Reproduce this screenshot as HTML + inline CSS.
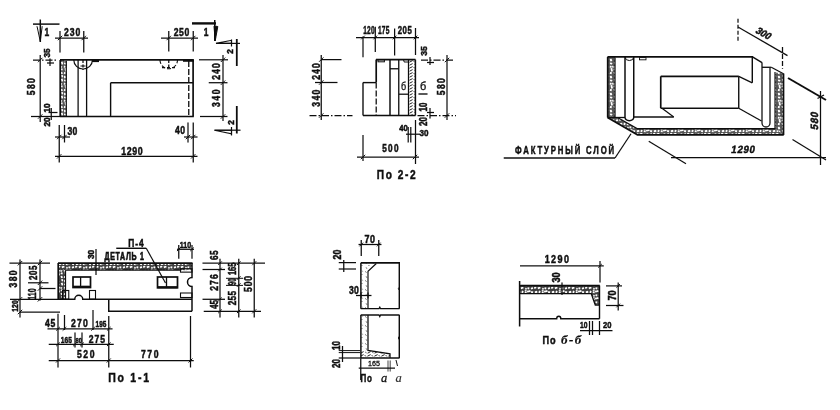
<!DOCTYPE html>
<html><head><meta charset="utf-8"><title>drawing</title>
<style>
html,body{margin:0;padding:0;background:#fff;}
body{width:840px;height:410px;overflow:hidden;font-family:"Liberation Sans",sans-serif;}
svg{display:block;font-family:"Liberation Sans",sans-serif;}
</style></head><body>
<svg width="840" height="410" viewBox="0 0 840 410">
<defs>
<pattern id="h" width="17" height="7" patternUnits="userSpaceOnUse">
<rect width="17" height="7" fill="#3d3d3d"/>
<path d="M0.5 1.2 L2.3 1.5 M4.0 1.8 L5.9 0.9 M7.2 1.2 L9.2 0.3 M10.8 1.4 L13.4 0.4 M15.2 1.7 L16.7 1.9 M0.1 4.7 L2.8 4.1 M4.1 4.8 L6.1 5.4 M7.8 5.3 L10.3 4.9 M11.6 5.5 L13.2 5.0 M14.8 5.1 L16.7 5.3 M12.9 3.8 L12.5 4.6 M8.9 4.0 L9.2 4.7 M15.7 3.0 L15.6 3.9 M3.3 3.5 L2.5 4.4" stroke="#fff" stroke-width="1.8" fill="none"/>
</pattern>
<pattern id="hl" width="17" height="7" patternUnits="userSpaceOnUse">
<rect width="17" height="7" fill="#555"/>
<path d="M0.5 1.2 L2.3 1.5 M4.0 1.8 L5.9 0.9 M7.2 1.2 L9.2 0.3 M10.8 1.4 L13.4 0.4 M15.2 1.7 L16.7 1.9 M0.1 4.7 L2.8 4.1 M4.1 4.8 L6.1 5.4 M7.8 5.3 L10.3 4.9 M11.6 5.5 L13.2 5.0 M14.8 5.1 L16.7 5.3 M12.9 3.8 L12.5 4.6 M8.9 4.0 L9.2 4.7 M15.7 3.0 L15.6 3.9 M3.3 3.5 L2.5 4.4" stroke="#fff" stroke-width="1.8" fill="none"/>
</pattern>
<pattern id="hr" width="17" height="7" patternUnits="userSpaceOnUse" patternTransform="rotate(90)">
<rect width="17" height="7" fill="#3d3d3d"/>
<path d="M0.5 1.2 L2.3 1.5 M4.0 1.8 L5.9 0.9 M7.2 1.2 L9.2 0.3 M10.8 1.4 L13.4 0.4 M15.2 1.7 L16.7 1.9 M0.1 4.7 L2.8 4.1 M4.1 4.8 L6.1 5.4 M7.8 5.3 L10.3 4.9 M11.6 5.5 L13.2 5.0 M14.8 5.1 L16.7 5.3 M12.9 3.8 L12.5 4.6 M8.9 4.0 L9.2 4.7 M15.7 3.0 L15.6 3.9 M3.3 3.5 L2.5 4.4" stroke="#fff" stroke-width="1.8" fill="none"/>
</pattern>
<pattern id="hv" width="17" height="7" patternUnits="userSpaceOnUse" patternTransform="rotate(90)">
<rect width="17" height="7" fill="#555"/>
<path d="M0.5 1.2 L2.3 1.5 M4.0 1.8 L5.9 0.9 M7.2 1.2 L9.2 0.3 M10.8 1.4 L13.4 0.4 M15.2 1.7 L16.7 1.9 M0.1 4.7 L2.8 4.1 M4.1 4.8 L6.1 5.4 M7.8 5.3 L10.3 4.9 M11.6 5.5 L13.2 5.0 M14.8 5.1 L16.7 5.3 M12.9 3.8 L12.5 4.6 M8.9 4.0 L9.2 4.7 M15.7 3.0 L15.6 3.9 M3.3 3.5 L2.5 4.4" stroke="#fff" stroke-width="1.8" fill="none"/>
</pattern>
<pattern id="h3" width="7" height="6" patternUnits="userSpaceOnUse">
<rect width="7" height="6" fill="#fff"/>
<path d="M3.4 2.2 L6.6 0.6 M3.6 5.2 L6.6 3.6 M0.8 1.2 L1.8 2.4 M1.4 4.2 L2.4 4.8" stroke="#222" stroke-width="1.0" fill="none"/>
</pattern>
<pattern id="h2" width="7" height="9" patternUnits="userSpaceOnUse">
<rect width="7" height="9" fill="#fff"/>
<path d="M1.5 1.5 L2.3 2.6 M4.5 4 L5.2 4.8 M2.2 6.5 L2.8 7.6 M5.3 0.8 L5.6 1.4" stroke="#222" stroke-width="0.9" fill="none"/>
</pattern>
<filter id="bl" x="-2%" y="-2%" width="104%" height="104%"><feGaussianBlur stdDeviation="0.3"/></filter>
</defs>
<rect width="840" height="410" fill="#fff"/>
<g stroke="#111" fill="none" filter="url(#bl)">
<polygon points="60,60 66.3,60 66.3,116.5 60,116.5" fill="url(#hv)" stroke="none"/>
<line x1="60" y1="59.8" x2="193.8" y2="59.8" stroke-width="1.7" stroke-linecap="butt"/>
<line x1="33" y1="60" x2="58" y2="60" stroke-width="1.25" stroke-dasharray="7 2 1.5 2" stroke-linecap="butt"/>
<line x1="60.2" y1="60" x2="60.2" y2="116.5" stroke-width="1.7" stroke-linecap="butt"/>
<line x1="66.3" y1="61" x2="66.3" y2="116.5" stroke-width="1.25" stroke-linecap="butt"/>
<line x1="31" y1="116.5" x2="60" y2="116.5" stroke-width="1.25" stroke-linecap="butt"/>
<line x1="60" y1="116.5" x2="193.8" y2="116.5" stroke-width="1.5" stroke-linecap="butt"/>
<line x1="78.1" y1="60" x2="78.1" y2="116.5" stroke-width="1.3" stroke-linecap="butt"/>
<line x1="86.6" y1="60" x2="86.6" y2="116.5" stroke-width="1.3" stroke-linecap="butt"/>
<path d="M73.8 60 A9.3 9 0 0 0 92.4 60" stroke-width="1.2" fill="none"/>
<line x1="83" y1="60" x2="83" y2="70" stroke-width="1.25" stroke-dasharray="3 1.5" stroke-linecap="butt"/>
<line x1="80.5" y1="66" x2="85.5" y2="66" stroke-width="1.0" stroke-linecap="butt"/>
<line x1="92" y1="61" x2="99" y2="61" stroke-width="2.2" stroke-linecap="butt"/>
<path d="M160 60 A8.75 8.75 0 0 0 177.5 60" stroke-width="1.1" fill="none" stroke-dasharray="4 2"/>
<line x1="168.75" y1="60" x2="168.75" y2="69" stroke-width="1.25" stroke-dasharray="3 1.5" stroke-linecap="butt"/>
<line x1="162" y1="67.5" x2="175" y2="67.5" stroke-width="1.25" stroke-dasharray="3 2" stroke-linecap="butt"/>
<line x1="183" y1="60.6" x2="193.8" y2="60.6" stroke-width="2.4" stroke-linecap="butt"/>
<line x1="193.1" y1="60" x2="193.1" y2="116.5" stroke-width="1.7" stroke-linecap="butt"/>
<line x1="188.75" y1="61" x2="188.75" y2="116.5" stroke-width="1.3" stroke-dasharray="6 2" stroke-linecap="butt"/>
<line x1="110.6" y1="82.7" x2="193" y2="82.7" stroke-width="1.5" stroke-linecap="butt"/>
<line x1="110.6" y1="82.7" x2="110.6" y2="116.5" stroke-width="1.4" stroke-linecap="butt"/>
<line x1="33" y1="24.1" x2="59.5" y2="24.1" stroke-width="1.5" stroke-linecap="butt"/>
<line x1="40.3" y1="19.5" x2="40.3" y2="42" stroke-width="1.5" stroke-linecap="butt"/>
<path d="M37 26.2 L40.3 41.5 L42.2 26.2" stroke-width="1.0" fill="none"/>
<text transform="translate(46.8,35.8) scale(0.8,1)" font-size="10.5" text-anchor="middle" font-weight="bold" stroke="#111" stroke-width="0.5" fill="#111">1</text>
<line x1="60" y1="31" x2="60" y2="52.5" stroke-width="1.25" stroke-linecap="butt"/>
<line x1="83.75" y1="31" x2="83.75" y2="52.5" stroke-width="1.25" stroke-linecap="butt"/>
<line x1="55" y1="38" x2="88" y2="38" stroke-width="1.25" stroke-linecap="butt"/>
<line x1="57.8" y1="40.2" x2="62.2" y2="35.8" stroke-width="1.0" stroke-linecap="butt"/>
<line x1="81.55" y1="40.2" x2="85.95" y2="35.8" stroke-width="1.0" stroke-linecap="butt"/>
<text transform="translate(72.7,35.8) scale(0.82,1)" font-size="10.5" text-anchor="middle" font-weight="bold" letter-spacing="1.2" stroke="#111" stroke-width="0.5" fill="#111">230</text>
<line x1="168.75" y1="31" x2="168.75" y2="51.5" stroke-width="1.25" stroke-linecap="butt"/>
<line x1="193.25" y1="31" x2="193.25" y2="51.5" stroke-width="1.25" stroke-linecap="butt"/>
<line x1="161" y1="38" x2="198" y2="38" stroke-width="1.25" stroke-linecap="butt"/>
<line x1="166.55" y1="40.2" x2="170.95" y2="35.8" stroke-width="1.0" stroke-linecap="butt"/>
<line x1="191.05" y1="40.2" x2="195.45" y2="35.8" stroke-width="1.0" stroke-linecap="butt"/>
<text transform="translate(181.8,35.8) scale(0.82,1)" font-size="10.5" text-anchor="middle" font-weight="bold" letter-spacing="0.7" stroke="#111" stroke-width="0.5" fill="#111">250</text>
<line x1="192" y1="23.4" x2="216" y2="23.4" stroke-width="2.4" stroke-linecap="butt"/>
<line x1="214.75" y1="20" x2="214.75" y2="41" stroke-width="1.5" stroke-linecap="butt"/>
<path d="M214 26 L217.8 26.5 L215.2 41 Z" stroke-width="1.0" fill="#111"/>
<text transform="translate(206,35.6) scale(0.8,1)" font-size="10.5" text-anchor="middle" font-weight="bold" stroke="#111" stroke-width="0.5" fill="#111">1</text>
<line x1="40.2" y1="55" x2="40.2" y2="122" stroke-width="1.25" stroke-linecap="butt"/>
<line x1="38.0" y1="62.2" x2="42.400000000000006" y2="57.8" stroke-width="1.0" stroke-linecap="butt"/>
<line x1="38.0" y1="118.7" x2="42.400000000000006" y2="114.3" stroke-width="1.0" stroke-linecap="butt"/>
<text transform="translate(35.2,86) rotate(-90) scale(0.82,1)" font-size="10.5" text-anchor="middle" font-weight="bold" letter-spacing="1.6" stroke="#111" stroke-width="0.5" fill="#111">580</text>
<text transform="translate(50,53) rotate(-90) scale(0.92,1)" font-size="9" text-anchor="middle" font-weight="bold" stroke="#111" stroke-width="0.5" fill="#111">35</text>
<line x1="50" y1="58.5" x2="50" y2="66" stroke-width="1.25" stroke-linecap="butt"/>
<line x1="47" y1="63" x2="54" y2="63" stroke-width="1.25" stroke-linecap="butt"/>
<text transform="translate(50,108) rotate(-90) scale(0.92,1)" font-size="9" text-anchor="middle" font-weight="bold" stroke="#111" stroke-width="0.5" fill="#111">10</text>
<text transform="translate(50,122) rotate(-90) scale(0.92,1)" font-size="9" text-anchor="middle" font-weight="bold" stroke="#111" stroke-width="0.5" fill="#111">20</text>
<line x1="51.25" y1="108" x2="51.25" y2="120" stroke-width="1.25" stroke-linecap="butt"/>
<line x1="48.5" y1="112.5" x2="57.5" y2="112.5" stroke-width="1.25" stroke-linecap="butt"/>
<line x1="223" y1="55" x2="223" y2="121" stroke-width="1.25" stroke-linecap="butt"/>
<line x1="199" y1="59.8" x2="228" y2="59.8" stroke-width="1.25" stroke-linecap="butt"/>
<line x1="208.75" y1="82.7" x2="227.5" y2="82.7" stroke-width="1.25" stroke-linecap="butt"/>
<line x1="200" y1="116.5" x2="227.5" y2="116.5" stroke-width="1.25" stroke-linecap="butt"/>
<line x1="220.8" y1="62.0" x2="225.2" y2="57.599999999999994" stroke-width="1.0" stroke-linecap="butt"/>
<line x1="220.8" y1="84.9" x2="225.2" y2="80.5" stroke-width="1.0" stroke-linecap="butt"/>
<line x1="220.8" y1="118.7" x2="225.2" y2="114.3" stroke-width="1.0" stroke-linecap="butt"/>
<text transform="translate(220.2,71) rotate(-90) scale(0.82,1)" font-size="10.5" text-anchor="middle" font-weight="bold" letter-spacing="1.3" stroke="#111" stroke-width="0.5" fill="#111">240</text>
<text transform="translate(220.2,97.5) rotate(-90) scale(0.82,1)" font-size="10.5" text-anchor="middle" font-weight="bold" letter-spacing="1.9" stroke="#111" stroke-width="0.5" fill="#111">340</text>
<line x1="236.8" y1="39" x2="236.8" y2="66" stroke-width="1.8" stroke-linecap="butt"/>
<path d="M216 43.4 L231.5 40.3 L231.5 43.4 Z" stroke-width="1.1" fill="none"/>
<line x1="216" y1="43.4" x2="240" y2="43.4" stroke-width="1.2" stroke-linecap="butt"/>
<line x1="231.5" y1="39.5" x2="231.5" y2="46.5" stroke-width="1.2" stroke-linecap="butt"/>
<text transform="translate(232.5,51.5) rotate(-90) scale(0.92,1)" font-size="9" text-anchor="middle" font-weight="bold" stroke="#111" stroke-width="0.5" fill="#111">2</text>
<line x1="236.8" y1="106" x2="236.8" y2="133.5" stroke-width="1.8" stroke-linecap="butt"/>
<path d="M214.5 130.2 L231.5 130.2 L231.5 133.8 Z" stroke-width="1.1" fill="none"/>
<line x1="214.5" y1="130.2" x2="240.5" y2="130.2" stroke-width="1.2" stroke-linecap="butt"/>
<line x1="231.5" y1="127" x2="231.5" y2="135.5" stroke-width="1.2" stroke-linecap="butt"/>
<text transform="translate(233.5,122.5) rotate(-90) scale(0.92,1)" font-size="9" text-anchor="middle" font-weight="bold" stroke="#111" stroke-width="0.5" fill="#111">2</text>
<line x1="59.25" y1="125" x2="59.25" y2="162.5" stroke-width="1.25" stroke-linecap="butt"/>
<line x1="64.5" y1="125" x2="64.5" y2="142.5" stroke-width="1.25" stroke-linecap="butt"/>
<line x1="55" y1="137" x2="70" y2="137" stroke-width="1.25" stroke-linecap="butt"/>
<line x1="57.05" y1="139.2" x2="61.45" y2="134.8" stroke-width="1.0" stroke-linecap="butt"/>
<line x1="62.3" y1="139.2" x2="66.7" y2="134.8" stroke-width="1.0" stroke-linecap="butt"/>
<text transform="translate(67.5,134.6) scale(0.82,1)" font-size="10.5" text-anchor="start" font-weight="bold" letter-spacing="0.4" stroke="#111" stroke-width="0.5" fill="#111">30</text>
<line x1="188" y1="122.5" x2="188" y2="142.5" stroke-width="1.25" stroke-linecap="butt"/>
<line x1="193.25" y1="122.5" x2="193.25" y2="162.5" stroke-width="1.25" stroke-linecap="butt"/>
<line x1="184" y1="137" x2="197.5" y2="137" stroke-width="1.25" stroke-linecap="butt"/>
<line x1="185.8" y1="139.2" x2="190.2" y2="134.8" stroke-width="1.0" stroke-linecap="butt"/>
<line x1="191.05" y1="139.2" x2="195.45" y2="134.8" stroke-width="1.0" stroke-linecap="butt"/>
<text transform="translate(185.3,134.3) scale(0.82,1)" font-size="10.5" text-anchor="end" font-weight="bold" letter-spacing="0.4" stroke="#111" stroke-width="0.5" fill="#111">40</text>
<line x1="55" y1="156.3" x2="197.5" y2="156.3" stroke-width="1.25" stroke-linecap="butt"/>
<line x1="57.05" y1="158.5" x2="61.45" y2="154.10000000000002" stroke-width="1.0" stroke-linecap="butt"/>
<line x1="191.05" y1="158.5" x2="195.45" y2="154.10000000000002" stroke-width="1.0" stroke-linecap="butt"/>
<text transform="translate(132.3,154.5) scale(0.8,1)" font-size="11" text-anchor="middle" font-weight="bold" letter-spacing="0.8" stroke="#111" stroke-width="0.5" fill="#111">1290</text>
<polygon points="408.5,59.5 415.5,59.5 415.5,115 408.5,115" fill="url(#h3)" stroke="none"/>
<line x1="376" y1="59.6" x2="415.5" y2="59.6" stroke-width="1.7" stroke-linecap="butt"/>
<line x1="376.2" y1="59.6" x2="376.2" y2="82.5" stroke-width="1.7" stroke-linecap="butt"/>
<line x1="376.2" y1="82.5" x2="376.2" y2="115.5" stroke-width="1.3" stroke-dasharray="6 2" stroke-linecap="butt"/>
<line x1="363" y1="82.6" x2="376.2" y2="82.6" stroke-width="1.4" stroke-linecap="butt"/>
<line x1="363" y1="82.6" x2="363" y2="115.5" stroke-width="1.4" stroke-linecap="butt"/>
<line x1="363" y1="115.5" x2="415.5" y2="115.5" stroke-width="1.5" stroke-linecap="butt"/>
<line x1="415.4" y1="59.6" x2="415.4" y2="115.5" stroke-width="1.5" stroke-linecap="butt"/>
<line x1="408.5" y1="60" x2="408.5" y2="115.5" stroke-width="1.25" stroke-linecap="butt"/>
<line x1="390" y1="59.6" x2="390" y2="115.5" stroke-width="1.5" stroke-linecap="butt"/>
<line x1="398.75" y1="59.6" x2="398.75" y2="115.5" stroke-width="1.3" stroke-linecap="butt"/>
<line x1="390" y1="68.75" x2="398.75" y2="68.75" stroke-width="1.3" stroke-linecap="butt"/>
<rect x="378" y="59.8" width="6.4" height="2.0" stroke-width="1.0" fill="none"/>
<path d="M403.5 59.6 L404.2 62 L408.3 62" stroke-width="1.0" fill="none"/>
<text transform="translate(403.5,90) scale(0.9,1)" font-size="10" text-anchor="middle" font-weight="normal" stroke="#111" stroke-width="0.3" fill="#111">б</text>
<line x1="399" y1="94.2" x2="408.5" y2="94.2" stroke-width="1.3" stroke-linecap="butt"/>
<text transform="translate(423.2,90) scale(0.95,1)" font-size="11.5" text-anchor="middle" font-weight="normal" stroke="#111" stroke-width="0.35" fill="#111">б</text>
<line x1="418.5" y1="94" x2="427.5" y2="94" stroke-width="1.4" stroke-linecap="butt"/>
<line x1="356" y1="37.5" x2="419" y2="37.5" stroke-width="1.25" stroke-linecap="butt"/>
<line x1="363" y1="36.5" x2="363" y2="57.2" stroke-width="1.25" stroke-linecap="butt"/>
<line x1="361.2" y1="39.3" x2="364.8" y2="35.7" stroke-width="1.0" stroke-linecap="butt"/>
<line x1="375.3" y1="26.8" x2="375.3" y2="52" stroke-width="1.25" stroke-linecap="butt"/>
<line x1="373.5" y1="39.3" x2="377.1" y2="35.7" stroke-width="1.0" stroke-linecap="butt"/>
<line x1="394.6" y1="28.5" x2="394.6" y2="55.5" stroke-width="1.25" stroke-linecap="butt"/>
<line x1="392.8" y1="39.3" x2="396.40000000000003" y2="35.7" stroke-width="1.0" stroke-linecap="butt"/>
<line x1="415.5" y1="28" x2="415.5" y2="55" stroke-width="1.25" stroke-linecap="butt"/>
<line x1="413.7" y1="39.3" x2="417.3" y2="35.7" stroke-width="1.0" stroke-linecap="butt"/>
<text transform="translate(369,34.3) scale(0.66,1)" font-size="10" text-anchor="middle" font-weight="bold" letter-spacing="0.3" stroke="#111" stroke-width="0.5" fill="#111">120</text>
<text transform="translate(383.7,34.3) scale(0.66,1)" font-size="10" text-anchor="middle" font-weight="bold" letter-spacing="0.3" stroke="#111" stroke-width="0.5" fill="#111">175</text>
<text transform="translate(405,34.3) scale(0.78,1)" font-size="10" text-anchor="middle" font-weight="bold" letter-spacing="0.6" stroke="#111" stroke-width="0.5" fill="#111">205</text>
<text transform="translate(426.8,51) rotate(-90) scale(0.92,1)" font-size="9.5" text-anchor="middle" font-weight="bold" stroke="#111" stroke-width="0.5" fill="#111">35</text>
<line x1="421" y1="60" x2="454" y2="60" stroke-width="1.25" stroke-dasharray="7 2 1.5 2" stroke-linecap="butt"/>
<line x1="430" y1="57" x2="430" y2="65" stroke-width="1.25" stroke-linecap="butt"/>
<line x1="427" y1="62.5" x2="434" y2="62.5" stroke-width="1.25" stroke-linecap="butt"/>
<line x1="447" y1="55" x2="447" y2="120" stroke-width="1.25" stroke-linecap="butt"/>
<line x1="444.8" y1="62.2" x2="449.2" y2="57.8" stroke-width="1.0" stroke-linecap="butt"/>
<line x1="444.8" y1="117.7" x2="449.2" y2="113.3" stroke-width="1.0" stroke-linecap="butt"/>
<text transform="translate(445.2,86) rotate(-90) scale(0.82,1)" font-size="10.5" text-anchor="middle" font-weight="bold" letter-spacing="1.6" stroke="#111" stroke-width="0.5" fill="#111">580</text>
<line x1="417.5" y1="115.5" x2="456" y2="115.5" stroke-width="1.25" stroke-dasharray="7 2 1.5 2" stroke-linecap="butt"/>
<text transform="translate(427.3,107) rotate(-90) scale(0.8,1)" font-size="10" text-anchor="middle" font-weight="bold" stroke="#111" stroke-width="0.5" fill="#111">10</text>
<text transform="translate(427.3,121.5) rotate(-90) scale(0.8,1)" font-size="10" text-anchor="middle" font-weight="bold" stroke="#111" stroke-width="0.5" fill="#111">20</text>
<line x1="430" y1="108" x2="430" y2="118.5" stroke-width="1.25" stroke-linecap="butt"/>
<line x1="427" y1="112.5" x2="434" y2="112.5" stroke-width="1.25" stroke-linecap="butt"/>
<line x1="321.25" y1="55" x2="321.25" y2="120" stroke-width="1.25" stroke-linecap="butt"/>
<line x1="321" y1="59.6" x2="341.5" y2="59.6" stroke-width="1.25" stroke-linecap="butt"/>
<line x1="315" y1="82.5" x2="337.5" y2="82.5" stroke-width="1.25" stroke-linecap="butt"/>
<line x1="309.5" y1="115.5" x2="352.5" y2="115.5" stroke-width="1.25" stroke-dasharray="7 2 1.5 2" stroke-linecap="butt"/>
<line x1="319.05" y1="61.800000000000004" x2="323.45" y2="57.4" stroke-width="1.0" stroke-linecap="butt"/>
<line x1="319.05" y1="84.7" x2="323.45" y2="80.3" stroke-width="1.0" stroke-linecap="butt"/>
<line x1="319.05" y1="117.7" x2="323.45" y2="113.3" stroke-width="1.0" stroke-linecap="butt"/>
<text transform="translate(320.2,71) rotate(-90) scale(0.82,1)" font-size="10.5" text-anchor="middle" font-weight="bold" letter-spacing="1.3" stroke="#111" stroke-width="0.5" fill="#111">240</text>
<text transform="translate(320.2,97.5) rotate(-90) scale(0.82,1)" font-size="10.5" text-anchor="middle" font-weight="bold" letter-spacing="1.6" stroke="#111" stroke-width="0.5" fill="#111">340</text>
<text transform="translate(403.5,131.2) scale(0.9,1)" font-size="8.5" text-anchor="middle" font-weight="bold" stroke="#111" stroke-width="0.5" fill="#111">40</text>
<text transform="translate(424,135.5) scale(0.85,1)" font-size="9.5" text-anchor="middle" font-weight="bold" stroke="#111" stroke-width="0.5" fill="#111">30</text>
<line x1="408.2" y1="127" x2="408.2" y2="142.5" stroke-width="1.25" stroke-linecap="butt"/>
<line x1="410.8" y1="127" x2="410.8" y2="142.5" stroke-width="1.25" stroke-linecap="butt"/>
<line x1="406" y1="134.2" x2="420" y2="134.2" stroke-width="1.25" stroke-linecap="butt"/>
<line x1="363" y1="135" x2="363" y2="161" stroke-width="1.25" stroke-linecap="butt"/>
<line x1="415.5" y1="120" x2="415.5" y2="164" stroke-width="1.25" stroke-linecap="butt"/>
<line x1="357" y1="157" x2="419" y2="157" stroke-width="1.25" stroke-linecap="butt"/>
<line x1="360.8" y1="159.2" x2="365.2" y2="154.8" stroke-width="1.0" stroke-linecap="butt"/>
<line x1="412.8" y1="159.2" x2="417.2" y2="154.8" stroke-width="1.0" stroke-linecap="butt"/>
<text transform="translate(391,152.3) scale(0.82,1)" font-size="10" text-anchor="middle" font-weight="bold" letter-spacing="1.6" stroke="#111" stroke-width="0.5" fill="#111">500</text>
<text transform="translate(397,179.2) scale(0.78,1)" font-size="13" text-anchor="middle" font-weight="bold" letter-spacing="2.0" stroke="#111" stroke-width="0.5" fill="#111">По 2-2</text>
<polygon points="607.5,56.75 615,56.75 615,117.5 607.5,117.5" fill="url(#hv)" stroke="none"/>
<polygon points="775,72.5 783.75,73.5 783.75,135 775,128.75" fill="url(#hv)" stroke="none"/>
<polygon points="607.5,117.5 617.5,117.5 637.5,128.75 775,128.75 783.75,135 637.5,135" fill="url(#hl)" stroke="none"/>
<line x1="607.5" y1="56.9" x2="753" y2="56.9" stroke-width="1.7" stroke-linecap="butt"/>
<line x1="607.7" y1="56.9" x2="607.7" y2="117.5" stroke-width="1.7" stroke-linecap="butt"/>
<line x1="607.5" y1="117.5" x2="625" y2="117.5" stroke-width="1.3" stroke-linecap="butt"/>
<line x1="615" y1="57.5" x2="615" y2="117.5" stroke-width="1.3" stroke-linecap="butt"/>
<path d="M607.5 117.5 L637.5 134.8 L783.75 134.8" stroke-width="1.7" fill="none"/>
<path d="M617.5 117.5 L637.5 128.75 L775 128.75" stroke-width="1.3" fill="none"/>
<path d="M625 57 L625 117.5 A4.4 3.5 0 0 0 633.75 117.5 L633.75 57" stroke-width="1.5" fill="none"/>
<path d="M625 57 A4.4 4 0 0 0 633.75 57" stroke-width="1.0" fill="none"/>
<rect x="639.5" y="57.6" width="6.5" height="2.2" stroke-width="0.9" fill="none"/>
<line x1="660.75" y1="76.3" x2="738.75" y2="76.3" stroke-width="1.7" stroke-linecap="butt"/>
<line x1="660.75" y1="76.3" x2="660.75" y2="108.3" stroke-width="1.7" stroke-linecap="butt"/>
<line x1="660.75" y1="108.3" x2="738.75" y2="108.3" stroke-width="1.5" stroke-linecap="butt"/>
<line x1="738.75" y1="76.3" x2="738.75" y2="108.3" stroke-width="1.4" stroke-linecap="butt"/>
<line x1="738.75" y1="76.3" x2="752.3" y2="82.8" stroke-width="1.3" stroke-linecap="butt"/>
<line x1="752.3" y1="56.9" x2="752.3" y2="82.8" stroke-width="1.4" stroke-linecap="butt"/>
<line x1="662" y1="108.3" x2="673.75" y2="117" stroke-width="1.3" stroke-linecap="butt"/>
<line x1="633.75" y1="117" x2="673.75" y2="117" stroke-width="1.3" stroke-linecap="butt"/>
<line x1="738.75" y1="108.3" x2="761.5" y2="121" stroke-width="1.3" stroke-linecap="butt"/>
<line x1="752.5" y1="56.9" x2="762" y2="62.6" stroke-width="1.5" stroke-linecap="butt"/>
<path d="M762 62.6 L762 123 A4 4 0 0 0 770 123 L770 68" stroke-width="1.3" fill="none"/>
<line x1="762" y1="67.3" x2="771.25" y2="67.3" stroke-width="1.3" stroke-linecap="butt"/>
<line x1="771.25" y1="67.3" x2="783.5" y2="73.8" stroke-width="1.3" stroke-linecap="butt"/>
<line x1="775" y1="72" x2="775" y2="129.25" stroke-width="1.2" stroke-linecap="butt"/>
<line x1="783.5" y1="73.5" x2="783.5" y2="135" stroke-width="1.7" stroke-linecap="butt"/>
<line x1="738" y1="27" x2="787.5" y2="55.6" stroke-width="1.25" stroke-linecap="butt"/>
<line x1="738" y1="18.75" x2="738" y2="42.5" stroke-width="1.25" stroke-dasharray="4 2" stroke-linecap="butt"/>
<line x1="782.5" y1="47" x2="782.5" y2="68.75" stroke-width="1.25" stroke-dasharray="5 2" stroke-linecap="butt"/>
<text transform="translate(761.5,36) rotate(30) skewX(-12) scale(0.92,1)" font-size="10" text-anchor="middle" font-weight="bold" stroke="#111" stroke-width="0.5" fill="#111">300</text>
<line x1="788" y1="78" x2="826" y2="100" stroke-width="2.0" stroke-linecap="butt"/>
<line x1="820.5" y1="91" x2="820.5" y2="165" stroke-width="1.25" stroke-linecap="butt"/>
<line x1="817.5" y1="98.5" x2="824" y2="95" stroke-width="1.25" stroke-linecap="butt"/>
<text transform="translate(817.5,121) rotate(-90) skewX(-12) scale(0.92,1)" font-size="10.5" text-anchor="middle" font-weight="bold" letter-spacing="0.8" stroke="#111" stroke-width="0.5" fill="#111">580</text>
<line x1="671" y1="157.6" x2="826" y2="157.6" stroke-width="1.25" stroke-linecap="butt"/>
<line x1="648.75" y1="141.25" x2="686" y2="163.75" stroke-width="1.25" stroke-linecap="butt"/>
<line x1="792.5" y1="139.5" x2="826" y2="160" stroke-width="1.25" stroke-linecap="butt"/>
<text transform="translate(743,152.8) skewX(-10) scale(0.92,1)" font-size="10.5" text-anchor="middle" font-weight="bold" letter-spacing="0.8" stroke="#111" stroke-width="0.5" fill="#111">1290</text>
<text transform="translate(515,153.5) scale(0.74,1)" font-size="10.5" text-anchor="start" font-weight="bold" letter-spacing="2.5" stroke="#111" stroke-width="0.5" fill="#111">ФАКТУРНЫЙ СЛОЙ</text>
<line x1="503.75" y1="158" x2="615" y2="158" stroke-width="1.5" stroke-linecap="butt"/>
<line x1="615" y1="158" x2="631" y2="133.75" stroke-width="1.25" stroke-linecap="butt"/>
<polygon points="58,263 192,263 192,270.2 58,270.2" fill="url(#h)" stroke="none"/>
<polygon points="58,270.2 65.5,270.2 65.5,299 58,299" fill="url(#hr)" stroke="none"/>
<line x1="58" y1="263.2" x2="192.5" y2="263.2" stroke-width="1.7" stroke-linecap="butt"/>
<line x1="58.2" y1="263" x2="58.2" y2="299.25" stroke-width="1.7" stroke-linecap="butt"/>
<line x1="65.5" y1="270.2" x2="180.5" y2="270.2" stroke-width="1.25" stroke-linecap="butt"/>
<line x1="65.5" y1="270.2" x2="65.5" y2="299" stroke-width="1.25" stroke-linecap="butt"/>
<path d="M58 299.3 L74.75 299.3 A4 4 0 0 1 82.75 299.3 L192 299.3" stroke-width="1.5" fill="none"/>
<path d="M192 263 L192 277.5 A4.5 4.5 0 0 0 192 286.5 L192 311.3" stroke-width="1.5" fill="none"/>
<path d="M108.75 299.3 L108.75 311.3 L192 311.3" stroke-width="1.5" fill="none"/>
<rect x="73" y="277" width="17.5" height="10.5" stroke-width="1.7" fill="none"/>
<line x1="80.6" y1="277" x2="80.6" y2="287.5" stroke-width="1.3" stroke-linecap="butt"/>
<line x1="73" y1="286.8" x2="90.5" y2="286.8" stroke-width="2.2" stroke-linecap="butt"/>
<rect x="157.5" y="277" width="20" height="10.8" stroke-width="1.7" fill="none"/>
<line x1="166.5" y1="277" x2="166.5" y2="287.8" stroke-width="1.3" stroke-linecap="butt"/>
<line x1="157.5" y1="287.2" x2="177.5" y2="287.2" stroke-width="2.2" stroke-linecap="butt"/>
<rect x="62.5" y="290.5" width="6.25" height="8.7" stroke-width="1.1" fill="none"/>
<rect x="89.5" y="290.5" width="6" height="8.7" stroke-width="1.1" fill="none"/>
<rect x="180.5" y="268.75" width="11.5" height="3.4" stroke-width="1.1" fill="none"/>
<rect x="180.5" y="293" width="11.5" height="4.5" stroke-width="1.1" fill="none"/>
<line x1="20" y1="259.5" x2="20" y2="317.5" stroke-width="1.25" stroke-linecap="butt"/>
<line x1="40" y1="259.5" x2="40" y2="300.5" stroke-width="1.25" stroke-linecap="butt"/>
<line x1="9.5" y1="263" x2="50" y2="263" stroke-width="1.25" stroke-linecap="butt"/>
<line x1="28" y1="282.8" x2="48.5" y2="282.8" stroke-width="1.25" stroke-linecap="butt"/>
<line x1="40" y1="288.5" x2="55.5" y2="288.5" stroke-width="1.25" stroke-linecap="butt"/>
<line x1="10" y1="299.3" x2="58" y2="299.3" stroke-width="1.25" stroke-linecap="butt"/>
<line x1="20" y1="312" x2="60" y2="312" stroke-width="1.25" stroke-linecap="butt"/>
<line x1="17.8" y1="265.4" x2="22.2" y2="261.0" stroke-width="1.0" stroke-linecap="butt"/>
<line x1="17.8" y1="301.5" x2="22.2" y2="297.1" stroke-width="1.0" stroke-linecap="butt"/>
<line x1="17.8" y1="314.2" x2="22.2" y2="309.8" stroke-width="1.0" stroke-linecap="butt"/>
<line x1="37.8" y1="265.2" x2="42.2" y2="260.8" stroke-width="1.0" stroke-linecap="butt"/>
<line x1="37.8" y1="285.0" x2="42.2" y2="280.6" stroke-width="1.0" stroke-linecap="butt"/>
<line x1="37.8" y1="290.7" x2="42.2" y2="286.3" stroke-width="1.0" stroke-linecap="butt"/>
<line x1="37.8" y1="301.5" x2="42.2" y2="297.1" stroke-width="1.0" stroke-linecap="butt"/>
<text transform="translate(16.7,278.3) rotate(-90) scale(0.82,1)" font-size="10.5" text-anchor="middle" font-weight="bold" letter-spacing="1.6" stroke="#111" stroke-width="0.5" fill="#111">380</text>
<text transform="translate(36.8,272.5) rotate(-90) scale(0.8,1)" font-size="10" text-anchor="middle" font-weight="bold" letter-spacing="0.6" stroke="#111" stroke-width="0.5" fill="#111">205</text>
<text transform="translate(36,294) rotate(-90) scale(0.7,1)" font-size="10" text-anchor="middle" font-weight="bold" stroke="#111" stroke-width="0.5" fill="#111">110</text>
<text transform="translate(18,306) rotate(-90) scale(0.8,1)" font-size="8.5" text-anchor="middle" font-weight="bold" stroke="#111" stroke-width="0.5" fill="#111">120</text>
<text transform="translate(94.3,254.5) rotate(-90) scale(0.92,1)" font-size="9" text-anchor="middle" font-weight="bold" stroke="#111" stroke-width="0.5" fill="#111">30</text>
<line x1="96" y1="249" x2="96" y2="275" stroke-width="1.25" stroke-linecap="butt"/>
<text transform="translate(136.5,246.6) scale(0.8,1)" font-size="10.5" text-anchor="middle" font-weight="bold" letter-spacing="1.2" stroke="#111" stroke-width="0.5" fill="#111">П-4</text>
<line x1="116.25" y1="248.3" x2="146.25" y2="248.3" stroke-width="1.4" stroke-linecap="butt"/>
<text transform="translate(104.5,259.6) scale(0.7,1)" font-size="10" text-anchor="start" font-weight="bold" letter-spacing="1.0" stroke="#111" stroke-width="0.7" fill="#111">ДЕТАЛЬ 1</text>
<line x1="146.25" y1="248.3" x2="165.5" y2="283" stroke-width="1.2" stroke-linecap="butt"/>
<text transform="translate(185.5,247.8) scale(0.75,1)" font-size="9.5" text-anchor="middle" font-weight="bold" stroke="#111" stroke-width="0.5" fill="#111">110</text>
<line x1="178.75" y1="245" x2="178.75" y2="258.75" stroke-width="1.25" stroke-linecap="butt"/>
<line x1="192" y1="245" x2="192" y2="258.75" stroke-width="1.25" stroke-linecap="butt"/>
<line x1="177" y1="249.3" x2="194" y2="249.3" stroke-width="1.25" stroke-linecap="butt"/>
<line x1="176.95" y1="251.10000000000002" x2="180.55" y2="247.5" stroke-width="1.0" stroke-linecap="butt"/>
<line x1="190.2" y1="251.10000000000002" x2="193.8" y2="247.5" stroke-width="1.0" stroke-linecap="butt"/>
<line x1="47.5" y1="328.8" x2="112.5" y2="328.8" stroke-width="1.25" stroke-linecap="butt"/>
<line x1="48.75" y1="344.3" x2="113.75" y2="344.3" stroke-width="1.25" stroke-linecap="butt"/>
<line x1="48.75" y1="360.5" x2="193.75" y2="360.5" stroke-width="1.25" stroke-linecap="butt"/>
<line x1="58" y1="313.75" x2="58" y2="367.5" stroke-width="1.25" stroke-linecap="butt"/>
<line x1="64.5" y1="315" x2="64.5" y2="330" stroke-width="1.25" stroke-linecap="butt"/>
<line x1="93" y1="310" x2="93" y2="330" stroke-width="1.25" stroke-linecap="butt"/>
<line x1="108.75" y1="316" x2="108.75" y2="367.5" stroke-width="1.25" stroke-linecap="butt"/>
<line x1="190.5" y1="316" x2="190.5" y2="367.5" stroke-width="1.25" stroke-linecap="butt"/>
<line x1="75" y1="332.5" x2="75" y2="347.5" stroke-width="1.25" stroke-linecap="butt"/>
<line x1="82" y1="332.5" x2="82" y2="347.5" stroke-width="1.25" stroke-linecap="butt"/>
<line x1="56.2" y1="330.6" x2="59.8" y2="327.0" stroke-width="1.0" stroke-linecap="butt"/>
<line x1="62.7" y1="330.6" x2="66.3" y2="327.0" stroke-width="1.0" stroke-linecap="butt"/>
<line x1="91.2" y1="330.6" x2="94.8" y2="327.0" stroke-width="1.0" stroke-linecap="butt"/>
<line x1="106.95" y1="330.6" x2="110.55" y2="327.0" stroke-width="1.0" stroke-linecap="butt"/>
<line x1="56.2" y1="346.1" x2="59.8" y2="342.5" stroke-width="1.0" stroke-linecap="butt"/>
<line x1="73.2" y1="346.1" x2="76.8" y2="342.5" stroke-width="1.0" stroke-linecap="butt"/>
<line x1="80.2" y1="346.1" x2="83.8" y2="342.5" stroke-width="1.0" stroke-linecap="butt"/>
<line x1="106.95" y1="346.1" x2="110.55" y2="342.5" stroke-width="1.0" stroke-linecap="butt"/>
<line x1="56" y1="362.5" x2="60" y2="358.5" stroke-width="1.0" stroke-linecap="butt"/>
<line x1="106.75" y1="362.5" x2="110.75" y2="358.5" stroke-width="1.0" stroke-linecap="butt"/>
<line x1="188.5" y1="362.5" x2="192.5" y2="358.5" stroke-width="1.0" stroke-linecap="butt"/>
<text transform="translate(56,327) scale(0.82,1)" font-size="10.5" text-anchor="end" font-weight="bold" letter-spacing="0.8" stroke="#111" stroke-width="0.5" fill="#111">45</text>
<text transform="translate(80,327.3) scale(0.82,1)" font-size="10.5" text-anchor="middle" font-weight="bold" letter-spacing="1.4" stroke="#111" stroke-width="0.5" fill="#111">270</text>
<text transform="translate(101,327) scale(0.72,1)" font-size="9" text-anchor="middle" font-weight="bold" stroke="#111" stroke-width="0.5" fill="#111">195</text>
<text transform="translate(66.3,342.5) scale(0.74,1)" font-size="9" text-anchor="middle" font-weight="bold" stroke="#111" stroke-width="0.5" fill="#111">165</text>
<text transform="translate(78.7,342.7) scale(0.72,1)" font-size="8" text-anchor="middle" font-weight="bold" stroke="#111" stroke-width="0.5" fill="#111">80</text>
<text transform="translate(97.3,342.7) scale(0.82,1)" font-size="10.5" text-anchor="middle" font-weight="bold" letter-spacing="1.2" stroke="#111" stroke-width="0.5" fill="#111">275</text>
<text transform="translate(86.5,357.5) scale(0.82,1)" font-size="10.5" text-anchor="middle" font-weight="bold" letter-spacing="1.8" stroke="#111" stroke-width="0.5" fill="#111">520</text>
<text transform="translate(150.5,357.5) scale(0.82,1)" font-size="10.5" text-anchor="middle" font-weight="bold" letter-spacing="1.8" stroke="#111" stroke-width="0.5" fill="#111">770</text>
<text transform="translate(129.5,381.5) scale(0.78,1)" font-size="13.5" text-anchor="middle" font-weight="bold" letter-spacing="2.2" stroke="#111" stroke-width="0.5" fill="#111">По 1-1</text>
<line x1="220" y1="258.75" x2="220" y2="317.5" stroke-width="1.25" stroke-linecap="butt"/>
<line x1="238.75" y1="258.75" x2="238.75" y2="317.5" stroke-width="1.25" stroke-linecap="butt"/>
<line x1="254.25" y1="258.75" x2="254.25" y2="317.5" stroke-width="1.25" stroke-linecap="butt"/>
<line x1="202.5" y1="263.2" x2="265" y2="263.2" stroke-width="1.25" stroke-linecap="butt"/>
<line x1="203.75" y1="311.3" x2="261" y2="311.3" stroke-width="1.25" stroke-linecap="butt"/>
<line x1="202.5" y1="269.5" x2="225" y2="269.5" stroke-width="1.25" stroke-linecap="butt"/>
<line x1="202.5" y1="299.3" x2="225" y2="299.3" stroke-width="1.25" stroke-linecap="butt"/>
<line x1="226" y1="278.3" x2="243" y2="278.3" stroke-width="1.0" stroke-linecap="butt"/>
<line x1="226" y1="285.4" x2="243" y2="285.4" stroke-width="1.0" stroke-linecap="butt"/>
<line x1="218.2" y1="265.0" x2="221.8" y2="261.4" stroke-width="1.0" stroke-linecap="butt"/>
<line x1="218.2" y1="271.3" x2="221.8" y2="267.7" stroke-width="1.0" stroke-linecap="butt"/>
<line x1="218.2" y1="301.1" x2="221.8" y2="297.5" stroke-width="1.0" stroke-linecap="butt"/>
<line x1="218.2" y1="313.1" x2="221.8" y2="309.5" stroke-width="1.0" stroke-linecap="butt"/>
<line x1="236.95" y1="265.0" x2="240.55" y2="261.4" stroke-width="1.0" stroke-linecap="butt"/>
<line x1="236.95" y1="279.8" x2="240.55" y2="276.2" stroke-width="1.0" stroke-linecap="butt"/>
<line x1="236.95" y1="286.8" x2="240.55" y2="283.2" stroke-width="1.0" stroke-linecap="butt"/>
<line x1="236.95" y1="313.1" x2="240.55" y2="309.5" stroke-width="1.0" stroke-linecap="butt"/>
<line x1="252.25" y1="265.2" x2="256.25" y2="261.2" stroke-width="1.0" stroke-linecap="butt"/>
<line x1="252.25" y1="313.3" x2="256.25" y2="309.3" stroke-width="1.0" stroke-linecap="butt"/>
<text transform="translate(217.7,255) rotate(-90) scale(0.82,1)" font-size="10" text-anchor="middle" font-weight="bold" letter-spacing="0.6" stroke="#111" stroke-width="0.5" fill="#111">65</text>
<text transform="translate(217.7,282) rotate(-90) scale(0.82,1)" font-size="10.5" text-anchor="middle" font-weight="bold" letter-spacing="1.2" stroke="#111" stroke-width="0.5" fill="#111">276</text>
<text transform="translate(217.7,304.5) rotate(-90) scale(0.82,1)" font-size="10" text-anchor="middle" font-weight="bold" stroke="#111" stroke-width="0.5" fill="#111">45</text>
<text transform="translate(236.2,268.8) rotate(-90) scale(0.75,1)" font-size="10" text-anchor="middle" font-weight="bold" stroke="#111" stroke-width="0.5" fill="#111">165</text>
<text transform="translate(236.3,281.7) rotate(-90) scale(0.62,1)" font-size="10" text-anchor="middle" font-weight="bold" stroke="#111" stroke-width="0.5" fill="#111">90</text>
<text transform="translate(236.2,298) rotate(-90) scale(0.82,1)" font-size="10" text-anchor="middle" font-weight="bold" letter-spacing="0.3" stroke="#111" stroke-width="0.5" fill="#111">255</text>
<text transform="translate(252.3,283.5) rotate(-90) scale(0.82,1)" font-size="10.5" text-anchor="middle" font-weight="bold" letter-spacing="1.0" stroke="#111" stroke-width="0.5" fill="#111">500</text>
<polygon points="360.75,263 376.3,263 368,271.3 368,308.5 360.75,308.5" fill="url(#h2)" stroke="none"/>
<polygon points="360.75,315 368,315 368,351 360.75,351" fill="url(#h2)" stroke="none"/>
<polygon points="360.75,351 368,350.5 390,353.8 390,357.5 360.75,357.5" fill="url(#h3)" stroke="none"/>
<line x1="360.75" y1="262.8" x2="400" y2="262.8" stroke-width="1.7" stroke-linecap="butt"/>
<line x1="360.9" y1="263" x2="360.9" y2="308.7" stroke-width="1.5" stroke-linecap="butt"/>
<line x1="399.3" y1="263" x2="399.3" y2="308.7" stroke-width="1.4" stroke-linecap="butt"/>
<path d="M376.3 263.5 L368 271.3 L368 308.5" stroke-width="1.2" fill="none"/>
<path d="M360.75 308.7 L379 308.7 L379.8 307.2 L380.6 308.7 L399.5 308.7" stroke-width="1.3" fill="none"/>
<path d="M360.75 315 L379 315 L379.8 316.5 L380.6 315 L399.5 315" stroke-width="1.3" fill="none"/>
<line x1="360.9" y1="315" x2="360.9" y2="358" stroke-width="1.5" stroke-linecap="butt"/>
<line x1="399.3" y1="315" x2="399.3" y2="358" stroke-width="1.4" stroke-linecap="butt"/>
<line x1="360.75" y1="358" x2="399.5" y2="358" stroke-width="1.5" stroke-linecap="butt"/>
<path d="M368 315 L368 350.5 L390 353.8 L390 358" stroke-width="1.3" fill="none"/>
<path d="M399.5 287 L398.3 288.7 L399.5 290.5" stroke-width="1.0" fill="none"/>
<path d="M399.5 336 L398.3 338 L399.5 340" stroke-width="1.0" fill="none"/>
<line x1="361.25" y1="240" x2="361.25" y2="256" stroke-width="1.25" stroke-linecap="butt"/>
<line x1="378.75" y1="240" x2="378.75" y2="256" stroke-width="1.25" stroke-linecap="butt"/>
<line x1="358.5" y1="244.5" x2="381.5" y2="244.5" stroke-width="1.25" stroke-linecap="butt"/>
<line x1="359.45" y1="246.3" x2="363.05" y2="242.7" stroke-width="1.0" stroke-linecap="butt"/>
<line x1="376.95" y1="246.3" x2="380.55" y2="242.7" stroke-width="1.0" stroke-linecap="butt"/>
<text transform="translate(370,243.2) scale(0.85,1)" font-size="10.5" text-anchor="middle" font-weight="bold" letter-spacing="0.5" stroke="#111" stroke-width="0.5" fill="#111">70</text>
<text transform="translate(340.8,254.5) rotate(-90) scale(0.78,1)" font-size="11.5" text-anchor="middle" font-weight="bold" stroke="#111" stroke-width="0.5" fill="#111">20</text>
<line x1="343.75" y1="260" x2="343.75" y2="272" stroke-width="1.25" stroke-linecap="butt"/>
<line x1="338.75" y1="262.6" x2="356" y2="262.6" stroke-width="1.25" stroke-linecap="butt"/>
<line x1="338.75" y1="269" x2="356" y2="269" stroke-width="1.25" stroke-linecap="butt"/>
<text transform="translate(354,293.7) scale(0.82,1)" font-size="10.5" text-anchor="middle" font-weight="bold" letter-spacing="0.4" stroke="#111" stroke-width="0.5" fill="#111">30</text>
<line x1="356" y1="295.5" x2="371.5" y2="295.5" stroke-width="1.25" stroke-linecap="butt"/>
<line x1="361" y1="292.5" x2="361" y2="298.5" stroke-width="1.25" stroke-linecap="butt"/>
<line x1="368" y1="292.5" x2="368" y2="298.5" stroke-width="1.25" stroke-linecap="butt"/>
<text transform="translate(339.8,345.5) rotate(-90) scale(0.8,1)" font-size="10" text-anchor="middle" font-weight="bold" stroke="#111" stroke-width="0.5" fill="#111">10</text>
<text transform="translate(339.8,363.5) rotate(-90) scale(0.8,1)" font-size="10" text-anchor="middle" font-weight="bold" stroke="#111" stroke-width="0.5" fill="#111">20</text>
<line x1="338.75" y1="350.6" x2="360" y2="350.6" stroke-width="1.0" stroke-linecap="butt"/>
<line x1="338.75" y1="352.6" x2="360" y2="352.6" stroke-width="1.0" stroke-linecap="butt"/>
<line x1="338.75" y1="358" x2="360" y2="358" stroke-width="1.25" stroke-linecap="butt"/>
<line x1="342.5" y1="346" x2="342.5" y2="362" stroke-width="1.25" stroke-linecap="butt"/>
<line x1="360.75" y1="357.5" x2="360.75" y2="380" stroke-width="1.25" stroke-linecap="butt"/>
<line x1="388" y1="360.5" x2="388" y2="371.5" stroke-width="0.8" stroke-linecap="butt"/>
<line x1="390.2" y1="360.5" x2="390.2" y2="371.5" stroke-width="0.8" stroke-linecap="butt"/>
<line x1="358.75" y1="368" x2="395" y2="368" stroke-width="1.25" stroke-linecap="butt"/>
<text transform="translate(374,366) scale(0.9,1)" font-size="8" text-anchor="middle" font-weight="normal" stroke="#111" stroke-width="0.3" fill="#111">165</text>
<path d="M396 360 L397.5 366" stroke-width="1.0" fill="none"/>
<text transform="translate(360.5,381.5) scale(0.8,1)" font-size="10" text-anchor="start" font-weight="bold" letter-spacing="1.0" stroke="#111" stroke-width="0.5" fill="#111">По</text>
<text x="381" y="381.5" font-family="Liberation Serif,serif" font-style="italic" font-size="12.5" stroke="#111" stroke-width="0.3" fill="#111">а</text><text x="395.5" y="381.5" font-family="Liberation Serif,serif" font-style="italic" font-size="12.5" stroke="#111" stroke-width="0.15" fill="#333">а</text>
<polygon points="519.5,285.5 599.5,285.5 599.5,305 595.3,305 591.2,293.6 519.5,293.6" fill="url(#h)" stroke="none"/>
<line x1="519.5" y1="285.7" x2="599.8" y2="285.7" stroke-width="1.7" stroke-linecap="butt"/>
<line x1="519.6" y1="281" x2="519.6" y2="326.5" stroke-width="1.5" stroke-linecap="butt"/>
<line x1="599.5" y1="285.5" x2="599.5" y2="318.75" stroke-width="1.4" stroke-linecap="butt"/>
<path d="M519.5 293.6 L591.2 293.6 L595.3 305 L599.5 305" stroke-width="1.3" fill="none"/>
<path d="M519.5 318.8 L556.7 318.8 A2 2.5 0 0 1 560.8 318.8 L599.5 318.8" stroke-width="1.4" fill="none"/>
<line x1="562" y1="282.5" x2="562" y2="295" stroke-width="1.25" stroke-linecap="butt"/>
<text transform="translate(560,277.5) rotate(-90) scale(0.8,1)" font-size="11.5" text-anchor="middle" font-weight="bold" stroke="#111" stroke-width="0.5" fill="#111">30</text>
<text transform="translate(557.5,262.6) scale(0.82,1)" font-size="11" text-anchor="middle" font-weight="bold" letter-spacing="1.7" stroke="#111" stroke-width="0.5" fill="#111">1290</text>
<line x1="520" y1="265.8" x2="603.75" y2="265.8" stroke-width="1.25" stroke-linecap="butt"/>
<line x1="600" y1="261" x2="600" y2="282.5" stroke-width="1.25" stroke-linecap="butt"/>
<line x1="598.2" y1="267.6" x2="601.8" y2="264.0" stroke-width="1.0" stroke-linecap="butt"/>
<line x1="618.2" y1="282.5" x2="618.2" y2="310.5" stroke-width="1.25" stroke-linecap="butt"/>
<line x1="606" y1="285.9" x2="622" y2="285.9" stroke-width="1.25" stroke-linecap="butt"/>
<line x1="606" y1="305.5" x2="623.5" y2="305.5" stroke-width="1.25" stroke-linecap="butt"/>
<line x1="616.4000000000001" y1="287.7" x2="620.0" y2="284.09999999999997" stroke-width="1.0" stroke-linecap="butt"/>
<line x1="616.4000000000001" y1="307.3" x2="620.0" y2="303.7" stroke-width="1.0" stroke-linecap="butt"/>
<text transform="translate(616,295.5) rotate(-90) scale(0.8,1)" font-size="11.5" text-anchor="middle" font-weight="bold" stroke="#111" stroke-width="0.5" fill="#111">70</text>
<text transform="translate(583.7,328.2) scale(0.75,1)" font-size="9" text-anchor="middle" font-weight="bold" stroke="#111" stroke-width="0.5" fill="#111">10</text>
<text transform="translate(607.2,328.2) scale(0.8,1)" font-size="9.5" text-anchor="middle" font-weight="bold" stroke="#111" stroke-width="0.5" fill="#111">20</text>
<line x1="589.5" y1="321" x2="589.5" y2="335" stroke-width="1.25" stroke-linecap="butt"/>
<line x1="592.5" y1="321" x2="592.5" y2="335" stroke-width="1.25" stroke-linecap="butt"/>
<line x1="599.5" y1="321" x2="599.5" y2="335" stroke-width="1.25" stroke-linecap="butt"/>
<line x1="580" y1="330.5" x2="612.5" y2="330.5" stroke-width="1.25" stroke-linecap="butt"/>
<text transform="translate(542.5,343.5) scale(0.8,1)" font-size="11.5" text-anchor="start" font-weight="bold" letter-spacing="1.2" stroke="#111" stroke-width="0.5" fill="#111">По</text>
<text x="561" y="343.5" font-family="Liberation Serif,serif" font-style="italic" font-weight="bold" font-size="13" letter-spacing="1.5" stroke="#111" stroke-width="0.2" fill="#111">б-б</text>
</g>
</svg>
</body></html>
